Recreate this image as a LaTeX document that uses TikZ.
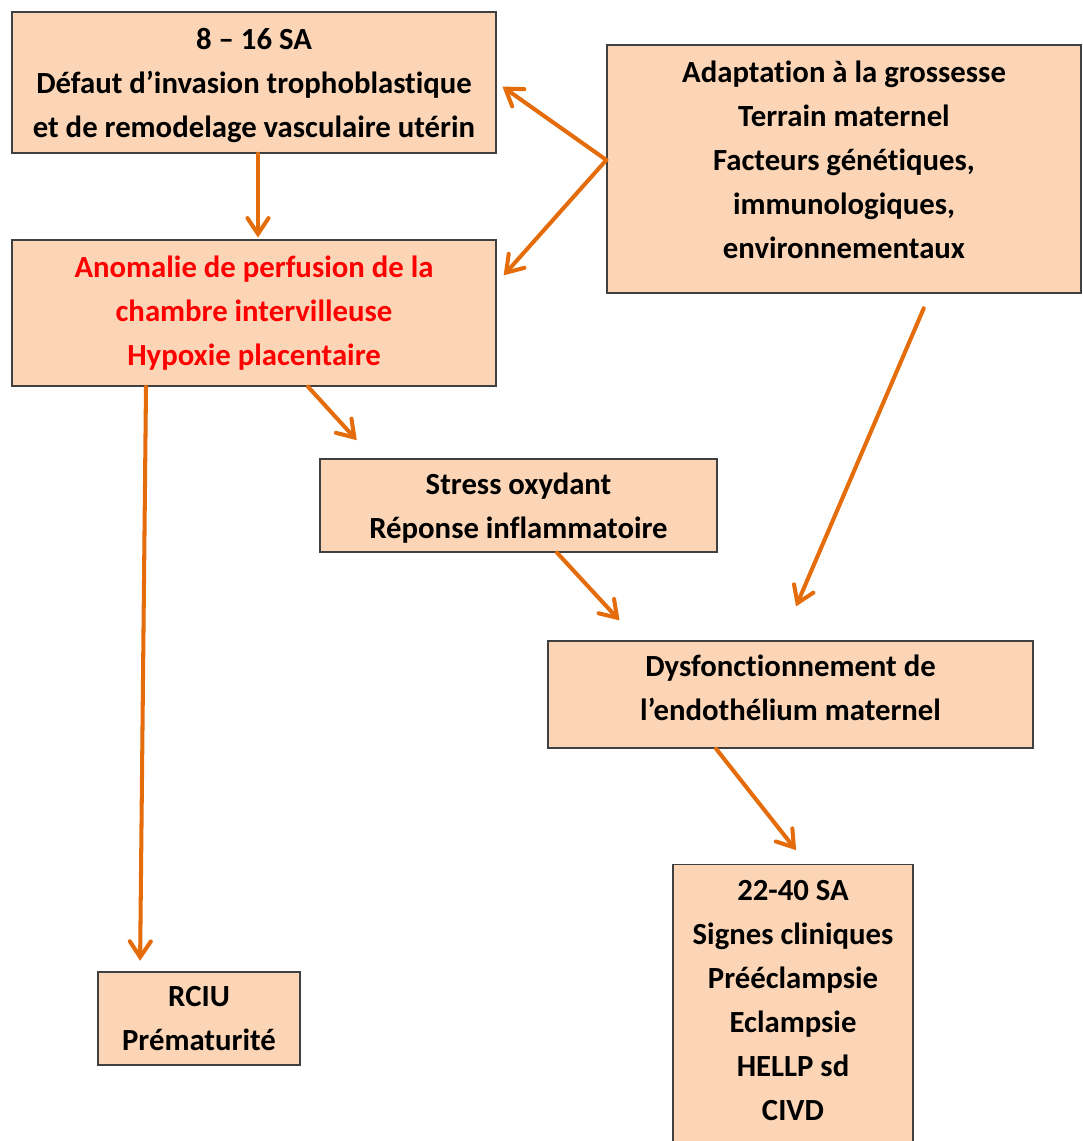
\documentclass[tikz,border=0pt]{standalone}
\usepackage{fontspec}
\setmainfont{Carlito}[Ligatures=NoCommon]
\usepackage{tikz}
\usetikzlibrary{calc,arrows.meta}
\usepackage{xcolor}
\definecolor{boxfill}{RGB}{251,213,181}
\definecolor{boxline}{RGB}{64,64,64}
\definecolor{flowarrow}{RGB}{228,108,10}
\definecolor{alerttext}{RGB}{255,0,0}

\begin{document}
\begin{tikzpicture}[x=0.02cm, y=-0.02cm,
  stage/.style={draw=boxline, line width=0.8pt, fill=boxfill, align=center, inner sep=0pt, font=\fontsize{17.5}{25}\selectfont\bfseries,
    execute at end node=\rule[-#1]{0pt}{0pt}},
  flow/.style={draw=flowarrow, line width=2.3pt, line cap=round, -{Straight Barb[length=9pt,width=12pt,line cap=round]}}]
\useasboundingbox (0,0) rectangle (1082,1141);
\clip (0,0) rectangle (1082,1141);
\node[stage=6pt, minimum width=9.68cm, minimum height=2.82cm] (defaut) at (254,82.5) {\rule{0pt}{18.6pt}8 – 16 SA\\Défaut d’invasion trophoblastique\\et de remodelage vasculaire utérin};
\node[stage=16pt, minimum width=9.48cm, minimum height=4.96cm] (adaptation) at (844,169) {\rule{0pt}{17.7pt}Adaptation à la grossesse\\Terrain maternel\\Facteurs génétiques,\\immunologiques,\\environnementaux};
\node[stage=10pt, text=alerttext, minimum width=9.68cm, minimum height=2.92cm] (anomalie) at (254,313) {\rule{0pt}{19.5pt}Anomalie de perfusion de la\\chambre intervilleuse\\Hypoxie placentaire};
\node[stage=7pt, minimum width=7.94cm, minimum height=1.86cm] (stress) at (518.5,505.5) {\rule{0pt}{19.5pt}Stress oxydant\\Réponse inflammatoire};
\node[stage=10pt, minimum width=9.7cm, minimum height=2.14cm] (dysf) at (790.5,694.5) {\rule{0pt}{14.6pt}Dysfonctionnement de\\l’endothélium maternel};
\node[stage=40pt, anchor=north, minimum width=4.8cm, minimum height=6.4cm] (signes) at (793,864) {\rule{0pt}{20.6pt}22-40 SA\\Signes cliniques\\Prééclampsie\\Eclampsie\\HELLP sd\\CIVD};
\node[stage=7pt, minimum width=4.04cm, minimum height=1.86cm] (rciu) at (199,1018.5) {\rule{0pt}{18.4pt}RCIU\\Prématurité};
\draw[flow, shorten >=1pt] ($(defaut.south)+(4,0)$) -- ($(anomalie.north)+(4,0)$);
\draw[flow, shorten >=4pt] ($(adaptation.west)+(0,-9)$) -- (defaut.east);
\draw[flow, shorten >=6pt] ($(adaptation.west)+(0,-9)$) -- (anomalie.7.5);
\draw[flow, shorten >=14pt] ($(anomalie.south)+(54,0)$) -- ($(stress.north west)+(54,0)$);
\draw[flow, shorten >=15.4pt] ($(stress.south)+(38.5,0)$) -- ($(dysf.north west)+(90.5,0)$);
\draw[flow, shorten <=9pt, shorten >=21pt] ($(adaptation.south)+(86,0)$) -- ($(dysf.north)+(-9,0)$);
\draw[flow, shorten >=10pt] ($(dysf.south)+(-74.5,0)$) -- ($(signes.north)+(14,0)$);
\draw[flow, shorten >=6pt] ($(anomalie.south)+(-108,0)$) -- ($(rciu.north)+(-59,0)$);
\end{tikzpicture}
\end{document}
